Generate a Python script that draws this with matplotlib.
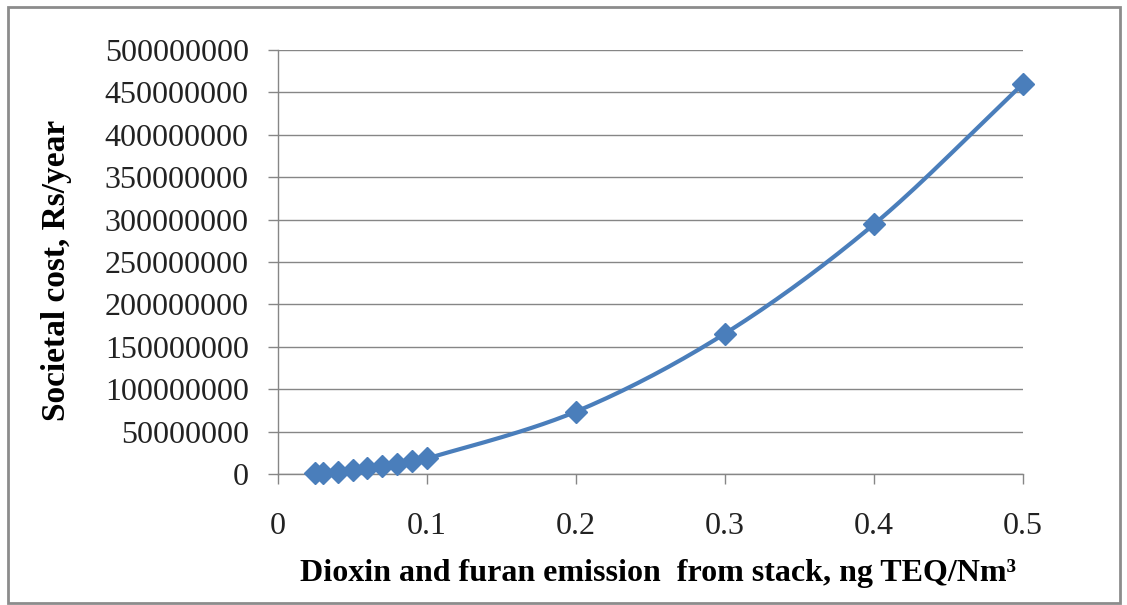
import numpy as np
import matplotlib
matplotlib.use("Agg")
import matplotlib.pyplot as plt
from matplotlib.patches import Rectangle

# emission level, ng TEQ/Nm3
emission = [0.025, 0.03, 0.04, 0.05, 0.06, 0.07, 0.08, 0.09, 0.1, 0.2, 0.3, 0.4, 0.5]
# societal cost, Rs/year
cost = [1150000, 1660000, 2940000, 4600000, 6620000, 9020000, 11780000,
        14900000, 18400000, 73600000, 165600000, 294400000, 460000000]

y_ticks = list(range(0, 500000001, 50000000))
x_ticks = [0, 0.1, 0.2, 0.3, 0.4, 0.5]
x_tick_labels = ["0", "0.1", "0.2", "0.3", "0.4", "0.5"]

blue = "#4a7ebb"
grey = "#868686"


def smooth(xs, ys, n=30):
    # catmull-rom through the points, like a spreadsheet "smoothed line"
    xs = np.asarray(xs, float)
    ys = np.asarray(ys, float)
    px = np.concatenate([[2 * xs[0] - xs[1]], xs, [2 * xs[-1] - xs[-2]]])
    py = np.concatenate([[2 * ys[0] - ys[1]], ys, [2 * ys[-1] - ys[-2]]])
    out_x, out_y = [], []
    t = np.linspace(0, 1, n)
    for i in range(1, len(px) - 2):
        p0x, p1x, p2x, p3x = px[i - 1:i + 3]
        p0y, p1y, p2y, p3y = py[i - 1:i + 3]
        c1x, c1y = p1x + (p2x - p0x) / 6, p1y + (p2y - p0y) / 6
        c2x, c2y = p2x - (p3x - p1x) / 6, p2y - (p3y - p1y) / 6
        bx = (1 - t) ** 3 * p1x + 3 * (1 - t) ** 2 * t * c1x + 3 * (1 - t) * t ** 2 * c2x + t ** 3 * p2x
        by = (1 - t) ** 3 * p1y + 3 * (1 - t) ** 2 * t * c1y + 3 * (1 - t) * t ** 2 * c2y + t ** 3 * p2y
        out_x.extend(bx)
        out_y.extend(by)
    return out_x, out_y


plt.rcParams["font.family"] = "Liberation Serif"

fig = plt.figure(figsize=(11.27, 6.05), dpi=100)
ax = fig.add_axes([0.2467, 0.2165, 0.661, 0.701])

sx, sy = smooth(emission, cost)
ax.plot(sx, sy, color=blue, lw=3.0, solid_capstyle="round", zorder=3, clip_on=False)
ax.plot(emission, cost, ls="none", marker="D", ms=11, color=blue, zorder=4, clip_on=False)

ax.set_xlim(0, 0.5)
ax.set_ylim(0, 500000000)
ax.set_xticks(x_ticks)
ax.set_xticklabels(x_tick_labels)
ax.set_yticks(y_ticks)
ax.set_yticklabels([str(v) for v in y_ticks])

ax.grid(axis="y", color=grey, lw=1.0)
ax.set_axisbelow(True)
for side in ["top", "right"]:
    ax.spines[side].set_visible(False)
for side in ["left", "bottom"]:
    ax.spines[side].set_color(grey)
    ax.spines[side].set_linewidth(1.0)

ax.tick_params(axis="both", colors=grey, labelcolor="#222222", labelsize=23,
               length=7, width=1.0, direction="out")
ax.tick_params(axis="x", pad=20)
ax.tick_params(axis="y", pad=14)

ax.set_xlabel("Dioxin and furan emission  from stack, ng TEQ/Nm\u00b3",
              fontsize=23, fontweight="bold", labelpad=13)
ax.set_ylabel("Societal cost, Rs/year", fontsize=24, fontweight="bold", labelpad=24)
ax.xaxis.label.set_x(0.51)
ax.yaxis.label.set_y(0.48)

fig.patches.append(Rectangle((8 / 1127, 2 / 605), 1112 / 1127, 596 / 605,
                             transform=fig.transFigure, fill=False,
                             edgecolor="#8c8c8c", lw=2))

fig.savefig("out.png", dpi=100)
